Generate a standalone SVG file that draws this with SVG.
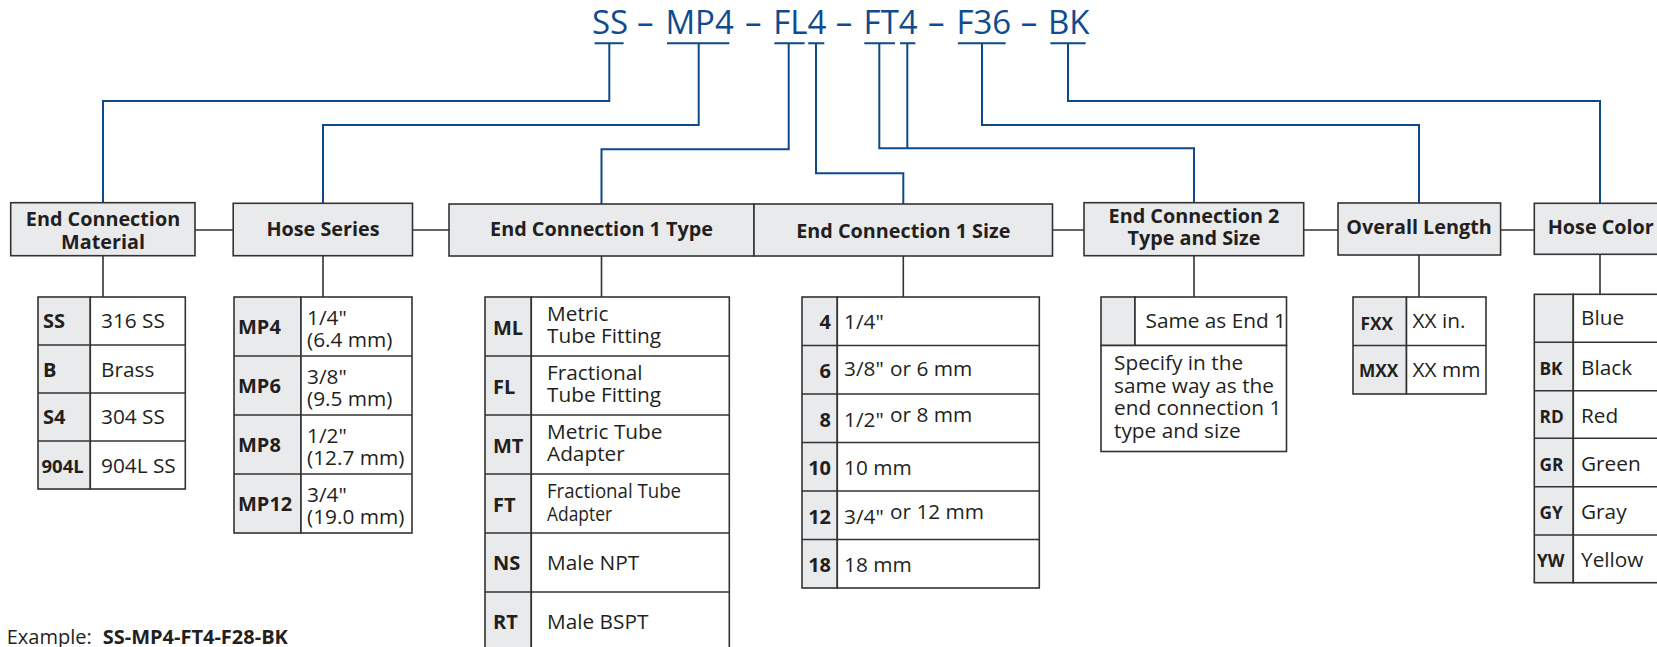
<svg xmlns="http://www.w3.org/2000/svg" width="1657" height="647" viewBox="0 0 1657 647">
<style>
text{font-family:"Open Sans","Noto Sans",sans-serif;fill:#231f20}
.t{font-size:33px;font-weight:500;fill:#0e4c8f}
.hd{font-size:19.8px;font-weight:bold;text-anchor:middle}
.cd{font-size:20px;font-weight:bold}
.cds{font-size:17.3px;font-weight:bold}
.v{font-size:20.8px}
.r{text-anchor:end}
.box{fill:#e9eaec;stroke:#333;stroke-width:1.6}
.cell{fill:#fff;stroke:#333;stroke-width:1.6}
.code{fill:#e9eaec;stroke:#333;stroke-width:1.6}
.blue{fill:none;stroke:#0d4a8c;stroke-width:2}
.gray{fill:none;stroke:#333;stroke-width:1.6}
</style>
<rect width="1657" height="647" fill="#fff"/>

<g id="title">
<text class="t" y="33.5"><tspan x="592">SS</tspan><tspan x="637">–</tspan><tspan x="665.4">MP4</tspan><tspan x="745">–</tspan><tspan x="773.2">FL4</tspan><tspan x="835.7">–</tspan><tspan x="863.6">FT4</tspan><tspan x="928">–</tspan><tspan x="956.4">F36</tspan><tspan x="1020.7">–</tspan><tspan x="1047.9">BK</tspan></text>
</g>

<g id="connectors">
<path class="blue" d="M594.6 43.3H623.6M609.3 43.3V101H103V203"/>
<path class="blue" d="M667 43.3H729.3M698.7 43.3V125H323V203"/>
<path class="blue" d="M774.3 43.3H804.6M788.7 43.3V149.3H601.5V204"/>
<path class="blue" d="M808.2 43.3H824.3M816 43.3V173.3H903.3V204"/>
<path class="blue" d="M864.3 43.3H895M879.3 43.3V148.3H1194V203M900 43.3H915.4M907.3 43.3V148.3"/>
<path class="blue" d="M957.9 43.3H1005.7M982 43.3V125H1419V203"/>
<path class="blue" d="M1050.4 43.3H1085.7M1068 43.3V101H1600V203"/>
<path class="gray" d="M195 230H233M412.5 230H449M1052.5 230H1084M1303.7 230H1338M1500.6 230H1534.3"/>
<path class="gray" d="M103 255.7V297M323 255.7V297M601.5 256V297M903.3 256V297M1194 255.7V297M1419 255V297M1600 254.3V294.3"/>
</g>

<g id="n-material">
<rect class="box" x="10.7" y="202.7" width="184.3" height="53"/>
<text class="hd" x="103" y="226">End Connection</text>
<text class="hd" x="103" y="249.3">Material</text>
</g>
<g id="n-series">
<rect class="box" x="233.2" y="203.3" width="179.3" height="52.4"/>
<text class="hd" x="323" y="236">Hose Series</text>
</g>
<g id="n-type">
<rect class="box" x="449" y="204" width="305" height="52"/>
<text class="hd" x="601.5" y="235.7">End Connection 1 Type</text>
</g>
<g id="n-size">
<rect class="box" x="754" y="204" width="298.5" height="52"/>
<text class="hd" x="903.3" y="237.7">End Connection 1 Size</text>
</g>
<g id="n-end2">
<rect class="box" x="1084" y="202.7" width="219.7" height="53"/>
<text class="hd" x="1194" y="223.3">End Connection 2</text>
<text class="hd" x="1194" y="245">Type and Size</text>
</g>
<g id="n-length">
<rect class="box" x="1338" y="203" width="162.6" height="52"/>
<text class="hd" x="1419" y="234.3">Overall Length</text>
</g>
<g id="n-color">
<rect class="box" x="1534.3" y="203.3" width="150" height="51"/>
<text class="hd" x="1547.7" y="234" style="text-anchor:start">Hose Color</text>
</g>

<g id="t-material">
<rect class="code" x="38" y="297" width="52.3" height="192"/>
<rect class="cell" x="90.3" y="297" width="95" height="192"/>
<path class="gray" d="M38 345H185.3M38 393H185.3M38 441H185.3"/>
<text class="cd" x="43" y="328">SS</text><text class="v" x="101" y="328">316 SS</text>
<text class="cd" x="43" y="376.5">B</text><text class="v" x="101" y="376.5">Brass</text>
<text class="cd" x="43" y="424">S4</text><text class="v" x="101" y="424">304 SS</text>
<text class="cd" x="41.5" y="473" style="font-size:18.5px">904L</text><text class="v" x="101" y="473">904L SS</text>
</g>

<g id="t-series">
<rect class="code" x="234" y="297" width="67" height="236"/>
<rect class="cell" x="301" y="297" width="111" height="236"/>
<path class="gray" d="M234 356H412M234 415H412M234 474H412"/>
<text class="cd" x="238" y="334">MP4</text><text class="v"><tspan x="307" y="325">1/4"</tspan><tspan x="307" y="346.5">(6.4 mm)</tspan></text>
<text class="cd" x="238" y="393">MP6</text><text class="v"><tspan x="307" y="384">3/8"</tspan><tspan x="307" y="405.5">(9.5 mm)</tspan></text>
<text class="cd" x="238" y="452">MP8</text><text class="v"><tspan x="307" y="443">1/2"</tspan><tspan x="307" y="464.5">(12.7 mm)</tspan></text>
<text class="cd" x="238" y="511">MP12</text><text class="v"><tspan x="307" y="502">3/4"</tspan><tspan x="307" y="523.5">(19.0 mm)</tspan></text>
</g>

<g id="t-type">
<rect class="code" x="485" y="297" width="46.3" height="360"/>
<rect class="cell" x="531.3" y="297" width="198" height="360"/>
<path class="gray" d="M485 356H729.3M485 415H729.3M485 474H729.3M485 533H729.3M485 592H729.3"/>
<text class="cd" x="493" y="335">ML</text><text class="v"><tspan x="547" y="320.5">Metric</tspan><tspan x="547" y="343">Tube Fitting</tspan></text>
<text class="cd" x="493" y="394">FL</text><text class="v"><tspan x="547" y="379.5">Fractional</tspan><tspan x="547" y="402">Tube Fitting</tspan></text>
<text class="cd" x="493" y="453">MT</text><text class="v"><tspan x="547" y="438.5">Metric Tube</tspan><tspan x="547" y="461">Adapter</tspan></text>
<text class="cd" x="493" y="512">FT</text><text class="v"><tspan x="547" y="498" textLength="134" lengthAdjust="spacingAndGlyphs">Fractional Tube</tspan><tspan x="547" y="520.5" textLength="65" lengthAdjust="spacingAndGlyphs">Adapter</tspan></text>
<text class="cd" x="493" y="570">NS</text><text class="v" x="547" y="570">Male NPT</text>
<text class="cd" x="493" y="629">RT</text><text class="v" x="547" y="629">Male BSPT</text>
</g>

<g id="t-size">
<rect class="code" x="802" y="297" width="35.3" height="291"/>
<rect class="cell" x="837.3" y="297" width="202" height="291"/>
<path class="gray" d="M802 345.5H1039.3M802 394H1039.3M802 442.5H1039.3M802 491H1039.3M802 539.5H1039.3"/>
<text class="cd r" x="831" y="328.5">4</text>
<text class="cd r" x="831" y="378">6</text>
<text class="cd r" x="831" y="426.5">8</text>
<text class="cd r" x="831" y="475">10</text>
<text class="cd r" x="831" y="524">12</text>
<text class="cd r" x="831" y="572">18</text>
<text class="v" x="844" y="329">1/4"</text>
<text class="v" x="844" y="375.5">3/8"<tspan x="890">or 6 mm</tspan></text>
<text class="v" x="844" y="426.5">1/2"<tspan x="890" y="421.5">or 8 mm</tspan></text>
<text class="v" x="844" y="475">10 mm</text>
<text class="v" x="844" y="524">3/4"<tspan x="890" y="518.5">or 12 mm</tspan></text>
<text class="v" x="844" y="572">18 mm</text>
</g>

<g id="t-end2">
<rect class="code" x="1101" y="297" width="34" height="48.5"/>
<rect class="cell" x="1135" y="297" width="151.5" height="48.5"/>
<rect class="cell" x="1101" y="345.5" width="185.5" height="106"/>
<text class="v" x="1145.5" y="328.3">Same as End 1</text>
<text class="v"><tspan x="1114" y="370">Specify in the</tspan><tspan x="1114" y="392.5">same way as the</tspan><tspan x="1114" y="415">end connection 1</tspan><tspan x="1114" y="437.5">type and size</tspan></text>
</g>

<g id="t-length">
<rect class="code" x="1353" y="297" width="53.5" height="97"/>
<rect class="cell" x="1406.5" y="297" width="79.5" height="97"/>
<path class="gray" d="M1353 345.5H1486"/>
<text class="cds" x="1360.5" y="330">FXX</text><text class="v" x="1412.5" y="328.3">XX in.</text>
<text class="cds" x="1359" y="376.7">MXX</text><text class="v" x="1412.5" y="376.7">XX mm</text>
</g>

<g id="t-color">
<rect class="code" x="1534.3" y="294.3" width="39" height="288.4"/>
<rect class="cell" x="1573.3" y="294.3" width="110" height="288.4"/>
<path class="gray" d="M1534.3 342.3H1683M1534.3 390.7H1683M1534.3 438.3H1683M1534.3 486.7H1683M1534.3 535H1683"/>
<text class="v" x="1581" y="325">Blue</text>
<text class="cds" x="1539.5" y="375">BK</text><text class="v" x="1581" y="375">Black</text>
<text class="cds" x="1539.5" y="423">RD</text><text class="v" x="1581" y="423">Red</text>
<text class="cds" x="1539.5" y="471">GR</text><text class="v" x="1581" y="471">Green</text>
<text class="cds" x="1539.5" y="518.5">GY</text><text class="v" x="1581" y="518.5">Gray</text>
<text class="cds" x="1537" y="567">YW</text><text class="v" x="1581" y="567">Yellow</text>
</g>

<g id="example">
<text class="v" x="6.7" y="644" style="font-size:20px">Example: <tspan font-weight="bold" x="102.7">SS-MP4-FT4-F28-BK</tspan></text>
</g>
</svg>
